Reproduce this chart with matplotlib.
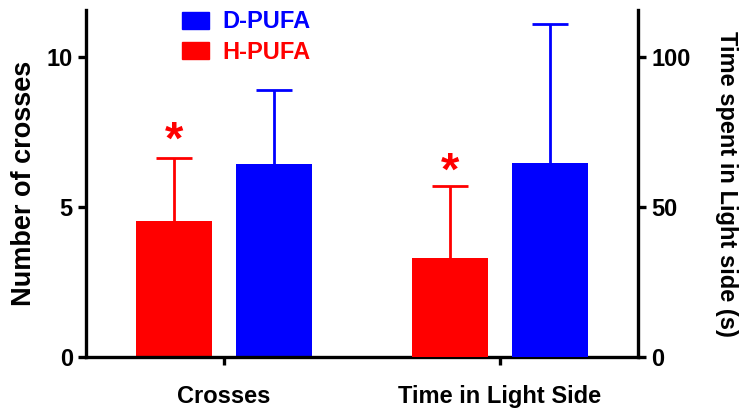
import matplotlib
matplotlib.use("Agg")
import matplotlib.pyplot as plt
from matplotlib.patches import Patch
import numpy as np

plt.rcParams['font.family'] = ['Liberation Sans', 'DejaVu Sans']
plt.rcParams['font.weight'] = 'bold'

# data
groups = ["Crosses", "Time in Light Side"]
series = ["H-PUFA", "D-PUFA"]
colors = ["#ff0000", "#0000ff"]
crosses_mean = [4.53, 6.43]
crosses_err = [2.12, 2.47]
time_mean = [33.0, 64.7]
time_err = [24.0, 46.3]

x = np.arange(len(groups))
width = 0.275
offsets = [-0.18, 0.18]

fig = plt.figure(figsize=(7.48, 4.19), dpi=100)
ax = fig.add_axes([0.115, 0.148, 0.738, 0.828])
ax2 = ax.twinx()

err_kw = dict(lw=2, capsize=13, capthick=2)


def drop_lower_cap(container):
    # upper-only error bars: hide the cap drawn at the bar top
    caps = container.errorbar.lines[1]
    if len(caps) > 1:
        caps[0].set_visible(False)


for i, c in enumerate(colors):
    b = ax.bar(x[0] + offsets[i], crosses_mean[i], width, color=c,
               yerr=[[0], [crosses_err[i]]], ecolor=c, error_kw=err_kw)
    drop_lower_cap(b)
    b = ax2.bar(x[1] + offsets[i], time_mean[i], width, color=c,
                yerr=[[0], [time_err[i]]], ecolor=c, error_kw=err_kw)
    drop_lower_cap(b)

# significance stars over H-PUFA
ax.text(x[0] + offsets[0], crosses_mean[0] + crosses_err[0] - 0.22, "*",
        color="#ff0000", fontsize=34, ha="center", va="bottom")
ax2.text(x[1] + offsets[0], time_mean[0] + time_err[0] - 2.8, "*",
         color="#ff0000", fontsize=34, ha="center", va="bottom")

ax.set_xlim(-0.5, 1.5)
ax.set_ylim(0, 11.57)
ax2.set_ylim(0, 115.7)
ax.set_yticks([0, 5, 10])
ax2.set_yticks([0, 50, 100])
ax.set_xticks(x)
ax.set_xticklabels(groups, fontsize=17, fontweight="bold")

for a in (ax, ax2):
    a.spines['top'].set_visible(False)
    for s in ('left', 'right', 'bottom'):
        a.spines[s].set_linewidth(2.4)
    a.tick_params(width=2.4, length=6, labelsize=17)
ax.tick_params(axis='x', pad=14)
ax.spines['right'].set_visible(False)
ax2.spines['left'].set_visible(False)
ax2.spines['bottom'].set_visible(False)

ax.set_ylabel("Number of crosses", fontsize=19.5, fontweight="bold", labelpad=7)
ax2.set_ylabel("Time spent in Light side (s)", fontsize=17, fontweight="bold",
               rotation=270, labelpad=34)

handles = [Patch(color=colors[1], label=series[1]),
           Patch(color=colors[0], label=series[0])]
leg = ax.legend(handles=handles, loc="upper left", bbox_to_anchor=(0.135, 1.06),
                frameon=False, fontsize=17, handlelength=1.15, handleheight=0.72,
                handletextpad=0.55, labelspacing=0.3)
for t, c in zip(leg.get_texts(), [colors[1], colors[0]]):
    t.set_color(c)
    t.set_fontweight("bold")

fig.savefig("out.png", dpi=100)
